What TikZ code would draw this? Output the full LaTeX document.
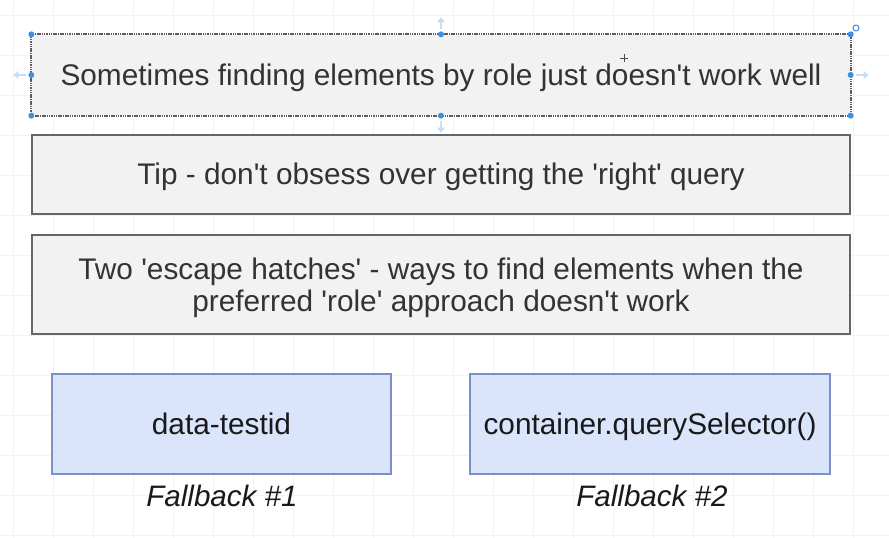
\documentclass[tikz,border=0pt]{standalone}
\usepackage{fontspec}
\setmainfont{Liberation Sans}[Ligatures=TeXOff]
\usetikzlibrary{arrows.meta}
\definecolor{gridc}{HTML}{F3F3F3}
\definecolor{greyfill}{HTML}{F2F2F2}
\definecolor{greyline}{HTML}{666666}
\definecolor{bluefill}{HTML}{DAE4FA}
\definecolor{blueline}{HTML}{7C90C8}
\definecolor{txt}{HTML}{333333}
\definecolor{handle}{HTML}{3D8EE5}
\definecolor{handlefaint}{HTML}{C9DDF5}
\tikzset{
  greybox/.style={draw=greyline, line width=1.3pt, fill=greyfill, inner sep=0pt, text=txt,
    font=\fontsize{29.8}{32.5}\selectfont, align=center, text height=21pt, text depth=1pt},
  bluebox/.style={draw=blueline, line width=1.3pt, fill=bluefill, inner sep=0pt, text=black!90,
    font=\fontsize{29.8}{32.5}\selectfont, align=center, text height=21pt, text depth=1pt},
  caption/.style={inner sep=0pt, text=black!90, font=\fontsize{29.6}{32}\selectfont\itshape,
    text height=21pt, text depth=1pt},
  hdot/.style={circle, fill=handle, inner sep=0pt, minimum size=6pt},
  harrow/.style={draw=handlefaint, line width=2pt, -{Triangle[length=5pt,width=8pt]}}
}
\begin{document}
\begin{tikzpicture}[x=1pt,y=-1pt]
\useasboundingbox (0,0) rectangle (889,538);
\fill[white] (0,0) rectangle (889,538);
% grid
\foreach \gx in {13,53,...,893} \draw[gridc, line width=0.8pt] (\gx,0) -- (\gx,538);
\foreach \gy in {15,55,...,535} \draw[gridc, line width=0.8pt] (0,\gy) -- (889,\gy);

\node[greybox, minimum width=818pt, minimum height=80pt, draw=none] (b1) at (441,75) {Sometimes finding elements by role just doesn't work well};
\draw[greyline!90!black, line width=1.8pt, dash pattern=on 1.5pt off 0.8pt] (b1.north west) rectangle (b1.south east);
\node[greybox, minimum width=818pt, minimum height=79pt] (b2) at (441,174.5) {Tip - don't obsess over getting the 'right' query};
\node[greybox, minimum width=818pt, minimum height=99pt, text height=55pt, text depth=1pt] (b3) at (441,284.5) {Two 'escape hatches' - ways to find elements when the\\preferred 'role' approach doesn't work};
\node[bluebox, minimum width=339pt, minimum height=100pt] (b4) at (221.5,424) {data-testid};
\node[bluebox, minimum width=360pt, minimum height=100pt] (b5) at (650,424) {container.querySelector()};
\node[caption] (c1) at (222,496) {Fallback \#1};
\node[caption] (c2) at (652,496) {Fallback \#2};

% selection handles
\foreach \a in {north west,north,north east,east,south east,south,south west,west}
  \node[hdot] at (b1.\a) {};
\coordinate (up1) at ([yshift=5pt]b1.north);
\coordinate (up2) at ([yshift=17pt]b1.north);
\draw[harrow] (up1) -- (up2);
\coordinate (dn1) at ([yshift=-5pt]b1.south);
\coordinate (dn2) at ([yshift=-17pt]b1.south);
\draw[harrow] (dn1) -- (dn2);
\coordinate (lf1) at ([xshift=-5pt]b1.west);
\coordinate (lf2) at ([xshift=-18pt]b1.west);
\draw[harrow] (lf1) -- (lf2);
\coordinate (rt1) at ([xshift=5pt]b1.east);
\coordinate (rt2) at ([xshift=18pt]b1.east);
\draw[harrow] (rt1) -- (rt2);
\draw[handle, line width=1pt] (856,28) circle (3pt);
% cursor
\draw[black!70, line width=1pt] (620,58) -- (628,58) (624,54) -- (624,62);
\end{tikzpicture}
\end{document}
